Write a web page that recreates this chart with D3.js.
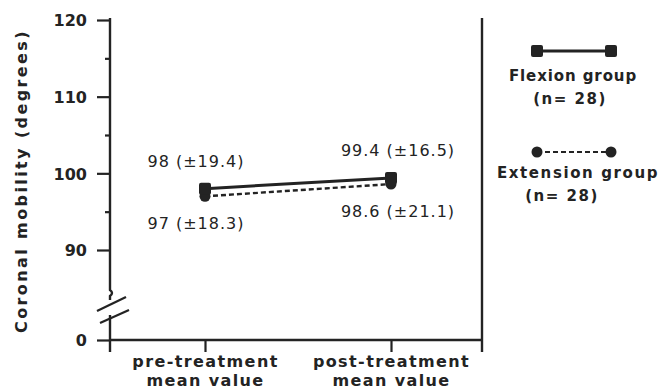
<!DOCTYPE html>
<html><head><meta charset="utf-8">
<script src="https://cdn.jsdelivr.net/npm/d3@7"></script>
<style>
html,body{margin:0;padding:0;background:#fff;}
svg{display:block;font-family:"DejaVu Sans",sans-serif;}
</style></head>
<body><svg id="c" width="664" height="390"></svg>
<script>
const categories = ["pre-treatment mean value", "post-treatment mean value"];
const categoryLines = [["pre-treatment", "mean value"], ["post-treatment", "mean value"]];
const flexion = [98, 99.4];
const flexionSD = [19.4, 16.5];
const extension = [97, 98.6];
const extensionSD = [18.3, 21.1];
const majorTicks = [90, 100, 110, 120];
const minorTicks = [95, 105, 115];
const breakTick = [0];
const seriesNames = ["Flexion group", "Extension group"];
const seriesN = [28, 28];
const yTitle = "Coronal mobility (degrees)";

const ink = "#232323";
const FONT = "'DejaVu Sans', sans-serif";
const svg = d3.select("#c");
const left = 110, right = 482, baseY = 340;

const y = d3.scaleLinear().domain([90, 120]).range([250, 20]);
const y0 = d3.scaleLinear().domain([0, 1]).range([baseY, baseY - 10]);
const x = d3.scalePoint().domain(categories).range([205, 391]);

function styleTickText(sel) {
  sel.style("fill", ink).style("font-size", "16px").style("font-weight", "bold")
    .style("font-family", FONT).attr("dy", "0.36em").attr("x", -23);
}

// upper axis with major ticks
const gY = svg.append("g").attr("transform", `translate(${left},0)`);
gY.call(d3.axisLeft(y).tickValues(majorTicks).tickSize(13).tickPadding(10).tickFormat(d3.format("d")));
gY.attr("font-family", null).attr("font-size", null);
gY.select(".domain").remove();
gY.selectAll(".tick line").attr("stroke", ink).attr("stroke-width", 2.2);
styleTickText(gY.selectAll(".tick text"));
// minor ticks
const gMin = svg.append("g").attr("transform", `translate(${left},0)`);
gMin.call(d3.axisLeft(y).tickValues(minorTicks).tickSize(5).tickFormat(""));
gMin.select(".domain").remove();
gMin.selectAll(".tick line").attr("stroke", ink).attr("stroke-width", 2.2);

// lower axis (0)
const gY0 = svg.append("g").attr("transform", `translate(${left},0)`);
gY0.call(d3.axisLeft(y0).tickValues(breakTick).tickSize(13).tickPadding(10).tickFormat(d3.format("d")));
gY0.attr("font-family", null).attr("font-size", null);
gY0.select(".domain").remove();
gY0.selectAll(".tick line").attr("stroke", ink).attr("stroke-width", 2.2);
styleTickText(gY0.selectAll(".tick text"));

// axis line segments with break
const axisTop = y(120) - 2;
svg.append("path").attr("d", `M${left},${axisTop} L${left},290 q4,3 0,6 L${left},300`)
  .attr("fill", "none").attr("stroke", ink).attr("stroke-width", 2.4);
svg.append("line").attr("x1", left).attr("x2", left).attr("y1", 315).attr("y2", baseY + 12)
  .attr("stroke", ink).attr("stroke-width", 2.4);
// break slashes
svg.append("line").attr("x1", left - 13).attr("y1", 311).attr("x2", left + 16).attr("y2", 297)
  .attr("stroke", ink).attr("stroke-width", 2.2);
svg.append("line").attr("x1", left - 10).attr("y1", 323).attr("x2", left + 19).attr("y2", 310)
  .attr("stroke", ink).attr("stroke-width", 2.2);

// right frame line
svg.append("line").attr("x1", right).attr("x2", right).attr("y1", axisTop).attr("y2", baseY + 12)
  .attr("stroke", ink).attr("stroke-width", 2.4);
// x axis
svg.append("line").attr("x1", left).attr("x2", right).attr("y1", baseY).attr("y2", baseY)
  .attr("stroke", ink).attr("stroke-width", 2.4);
const gX = svg.append("g").attr("transform", `translate(0,${baseY})`);
gX.call(d3.axisBottom(x).tickSize(12).tickFormat(""));
gX.attr("font-family", null).attr("font-size", null);
gX.select(".domain").remove();
gX.selectAll(".tick line").attr("stroke", ink).attr("stroke-width", 2.2);
gX.selectAll(".tick").each(function(d, i) {
  const t = d3.select(this).append("text").style("fill", ink).style("font-size", "16px")
    .style("font-weight", "bold").style("font-family", FONT).attr("text-anchor", "middle").attr("letter-spacing", 1.4);
  categoryLines[i].forEach((s, j) => t.append("tspan").attr("x", 0).attr("y", 27 + j * 19).text(s));
});

// y title
svg.append("text").attr("transform", `translate(27,181) rotate(-90)`)
  .attr("text-anchor", "middle").attr("fill", ink).attr("font-size", 16).attr("font-weight", "bold")
  .attr("letter-spacing", 2.4).text(yTitle);

// series lines
const line = d3.line().x((d, i) => x(categories[i])).y(d => y(d));
svg.append("path").datum(extension).attr("d", line).attr("fill", "none")
  .attr("stroke", ink).attr("stroke-width", 2.4).attr("stroke-dasharray", "5,3");
svg.append("path").datum(flexion).attr("d", line).attr("fill", "none")
  .attr("stroke", ink).attr("stroke-width", 3);
// markers
svg.selectAll("circle.ext").data(extension).join("circle").attr("class", "ext")
  .attr("cx", (d, i) => x(categories[i])).attr("cy", d => y(d)).attr("r", 5.5).attr("fill", ink);
svg.selectAll("rect.flex").data(flexion).join("rect").attr("class", "flex")
  .attr("x", (d, i) => x(categories[i]) - 6).attr("y", d => y(d) - 6)
  .attr("width", 12).attr("height", 12).attr("rx", 2).attr("fill", ink);

// value labels
const fmtLabel = (v, sd) => `${v} (±${sd})`;
const labelDx = [-9, 7];
svg.selectAll("text.flexlab").data(flexion).join("text").attr("class", "flexlab")
  .attr("x", (d, i) => x(categories[i]) + labelDx[i]).attr("y", d => y(d) - 22)
  .attr("text-anchor", "middle").attr("fill", ink).attr("font-size", 16).attr("letter-spacing", 1)
  .text((d, i) => fmtLabel(d, flexionSD[i]));
svg.selectAll("text.extlab").data(extension).join("text").attr("class", "extlab")
  .attr("x", (d, i) => x(categories[i]) + labelDx[i]).attr("y", d => y(d) + 33)
  .attr("text-anchor", "middle").attr("fill", ink).attr("font-size", 16).attr("letter-spacing", 1)
  .text((d, i) => fmtLabel(d, extensionSD[i]));

// legend
const lg = svg.append("g");
const lx1 = 537, lx2 = 611;
lg.append("line").attr("x1", lx1).attr("x2", lx2).attr("y1", 51).attr("y2", 51).attr("stroke", ink).attr("stroke-width", 3);
[lx1, lx2].forEach(px => lg.append("rect").attr("x", px - 6).attr("y", 45).attr("width", 12).attr("height", 12).attr("rx", 2).attr("fill", ink));
lg.append("line").attr("x1", lx1).attr("x2", lx2).attr("y1", 152).attr("y2", 152).attr("stroke", ink).attr("stroke-width", 2.2).attr("stroke-dasharray", "5,3");
[lx1, lx2].forEach(px => lg.append("circle").attr("cx", px).attr("cy", 152).attr("r", 5.5).attr("fill", ink));
const legY = [75, 172];
seriesNames.forEach((nm, i) => {
  lg.append("text").attr("x", i === 0 ? 573 : 578).attr("y", legY[i] + 6).attr("text-anchor", "middle")
    .attr("fill", ink).attr("font-size", 15).attr("font-weight", "bold").attr("letter-spacing", i === 0 ? 0.9 : 1.6).text(nm);
  lg.append("text").attr("x", i === 0 ? 570 : 562).attr("y", legY[i] + 29).attr("text-anchor", "middle")
    .attr("fill", ink).attr("font-size", 15).attr("font-weight", "bold").attr("letter-spacing", 1.5).text(`(n= ${seriesN[i]})`);
});
</script></body></html>
